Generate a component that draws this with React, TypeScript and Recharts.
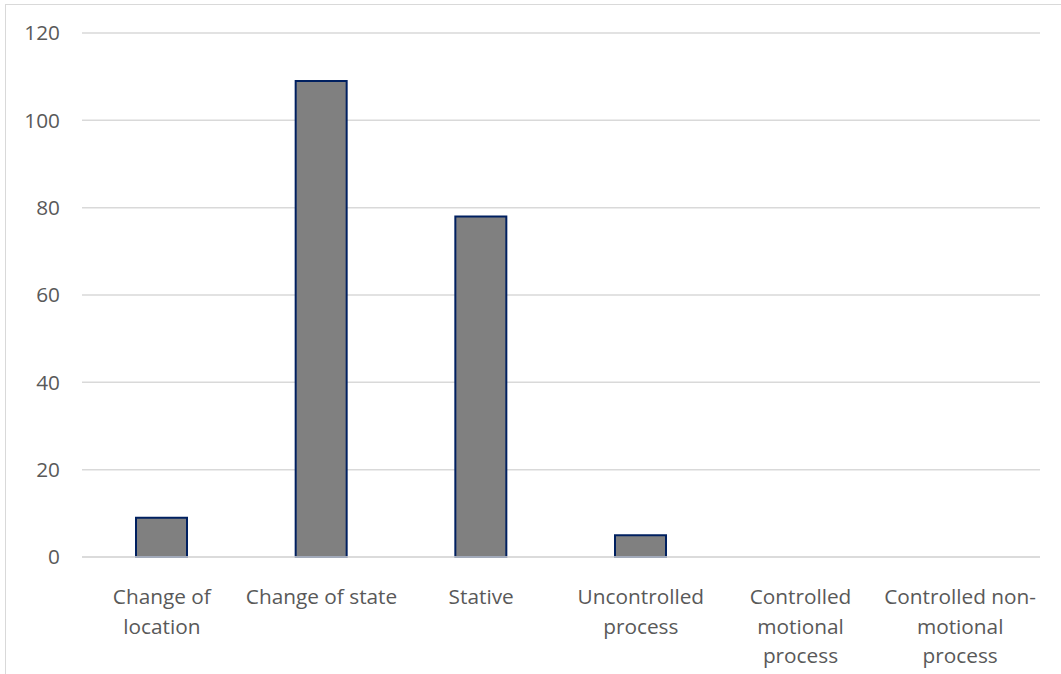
import { BarChart, Bar, XAxis, YAxis, CartesianGrid } from "recharts";

const categories = [
    "Change of\nlocation",
    "Change of state",
    "Stative",
    "Uncontrolled\nprocess",
    "Controlled\nmotional\nprocess",
    "Controlled non-\nmotional\nprocess",
];
const counts = [9, 109, 78, 5, 0, 0];
const yTicks = [0, 20, 40, 60, 80, 100, 120];

const FONT = "'Open Sans', sans-serif";
const LABEL = "#595959";

const chartData = categories.map((name, i) => ({ name, value: counts[i] }));

const CategoryTick = (props: any) => {
    const { x, y, payload } = props;
    const lines = String(payload.value).split("\n");
    return (
        <text x={x} y={y} textAnchor="middle" fill={LABEL} fontSize={20.8} fontFamily={FONT}>
            {lines.map((line, i) => (
                <tspan key={i} x={x} dy={i === 0 ? 39 : 29.5}>
                    {line}
                </tspan>
            ))}
        </text>
    );
};

const App = () => {
    return (
        <div style={{ position: "absolute", left: 0, top: 0, width: 1061, height: 674, overflow: "hidden", background: "#fff" }}>
            <div
                style={{
                    position: "absolute",
                    left: 5,
                    top: 4,
                    width: 1080,
                    height: 700,
                    border: "1.5px solid #d9d9d9",
                    boxSizing: "border-box",
                }}
            />
            <div style={{ position: "absolute", left: 0, top: 0 }}>
                <BarChart
                    width={1061}
                    height={674}
                    data={chartData}
                    margin={{ top: 33, right: 21, left: 0, bottom: 0 }}
                    barCategoryGap={0}
                >
                    <CartesianGrid vertical={false} stroke="#d9d9d9" strokeWidth={1.5} />
                    <XAxis
                        dataKey="name"
                        height={117}
                        interval={0}
                        tickLine={false}
                        axisLine={{ stroke: "#d9d9d9", strokeWidth: 1.5 }}
                        tick={<CategoryTick />}
                    />
                    <YAxis
                        width={82}
                        domain={[0, 120]}
                        ticks={yTicks}
                        axisLine={false}
                        tickLine={false}
                        tickSize={0}
                        tickMargin={22}
                        tick={{ fill: LABEL, fontSize: 20.8, fontFamily: FONT }}
                    />
                    <Bar
                        dataKey="value"
                        fill="#808080"
                        stroke="#002060"
                        strokeWidth={2}
                        barSize={51}
                        isAnimationActive={false}
                    />
                </BarChart>
            </div>
        </div>
    );
};

export default App;
